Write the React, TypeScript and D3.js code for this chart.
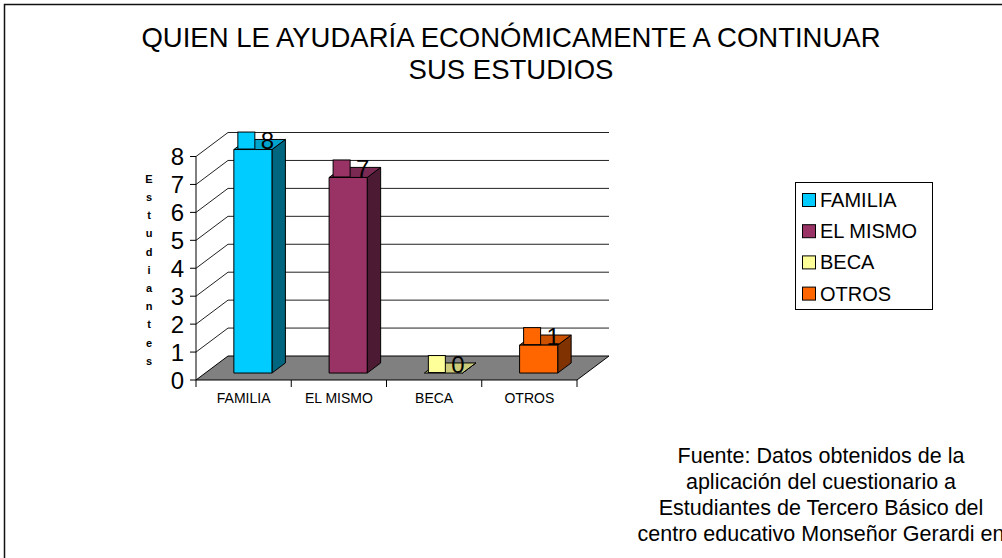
import React from "react";
import * as d3 from "d3";

const categories = ["FAMILIA", "EL MISMO", "BECA", "OTROS"];
const values = [8, 7, 0, 1];
const frontColors = ["#00CCFF", "#993366", "#FFFF99", "#FF6600"];
const topColors = ["#00A3CC", "#7A2952", "#CCCC7A", "#CC5200"];
const sideColors = ["#006680", "#4D1A33", "#80804D", "#803300"];
const yTicks = [0, 1, 2, 3, 4, 5, 6, 7, 8];
const titleLines = ["QUIEN LE AYUDARÍA ECONÓMICAMENTE A CONTINUAR", "SUS ESTUDIOS"];
const yTitle = "Estudiantes";
const footLines = [
  "Fuente: Datos obtenidos de la",
  "aplicación del cuestionario a",
  "Estudiantes de Tercero Básico del",
  "centro educativo Monseñor Gerardi en",
];

const FONT = "'Liberation Sans', Arial, Helvetica, sans-serif";

export default function App() {
  const W = 1002;
  const H = 558;
  const x = d3.scaleBand<string>().domain(categories).range([196, 577]).padding(0);
  const y = d3.scaleLinear().domain([0, 8]).range([380, 156.5]);
  const DX = 32;
  const DY = -24;
  const f0 = 0.29;
  const f1 = 0.71;
  const bw = x.bandwidth();
  const barW = bw * 0.4;
  const ddx = (f1 - f0) * DX;
  const ddy = (f1 - f0) * DY;

  const floor = [
    [196, y(0)],
    [577, y(0)],
    [577 + DX, y(0) + DY],
    [196 + DX, y(0) + DY],
  ];
  const pts = (a: number[][]) => a.map((p) => p.join(",")).join(" ");

  return (
    <svg
      width={W}
      height={H}
      style={{ position: "absolute", left: 0, top: 0, background: "#fff" }}
      fontFamily={FONT}
    >
      <rect x={0} y={0} width={W} height={H} fill="#fff" />
      <rect x={4.5} y={4.5} width={1200} height={1000} fill="none" stroke="#111" strokeWidth={1.5} />

      {/* Title */}
      {titleLines.map((t, i) => (
        <text key={t} x={511} y={47 + i * 32} textAnchor="middle" fontSize={27.5} fill="#000">
          {t}
        </text>
      ))}

      {/* Floor */}
      <polygon points={pts(floor)} fill="#808080" stroke="#000" strokeWidth={1} />

      {/* Gridlines: side wall diagonals and back wall */}
      {yTicks.map((t) => (
        <g key={"g" + t}>
          {t > 0 && (
            <line x1={196} y1={y(t)} x2={196 + DX} y2={y(t) + DY} stroke="#222" strokeWidth={1} />
          )}
          {t > 0 && (
            <line x1={196 + DX} y1={y(t) + DY} x2={577 + DX} y2={y(t) + DY} stroke="#222" strokeWidth={1} />
          )}
        </g>
      ))}

      {/* Y axis */}
      <line x1={196} y1={y(0)} x2={196} y2={y(8)} stroke="#000" strokeWidth={1} />
      {yTicks.map((t) => (
        <g key={"yt" + t}>
          <line x1={190} y1={y(t)} x2={196} y2={y(t)} stroke="#000" strokeWidth={1} />
          <text x={184} y={y(t) + 8.5} textAnchor="end" fontSize={24} fill="#000">
            {t}
          </text>
        </g>
      ))}

      {/* Y axis title stacked letters */}
      {yTitle.split("").map((ch, i) => (
        <text key={"yl" + i} x={149} y={182.7 + i * 18.2} textAnchor="middle" fontSize={11} fontWeight="bold" fill="#000">
          {ch}
        </text>
      ))}

      {/* X axis ticks and labels */}
      {[...categories.map((c) => x(c) as number), 577].map((tx, i) => (
        <line key={"xt" + i} x1={tx} y1={y(0)} x2={tx} y2={y(0) + 7} stroke="#000" strokeWidth={1} />
      ))}
      {categories.map((c) => (
        <text key={"xl" + c} x={(x(c) as number) + bw / 2} y={403} textAnchor="middle" fontSize={14} fill="#000">
          {c}
        </text>
      ))}

      {/* Bars */}
      {categories.map((c, i) => {
        const x0 = (x(c) as number) + (bw - barW) / 2 + f0 * DX;
        const x1 = x0 + barW;
        const bottom = y(0) + f0 * DY;
        const top = y(values[i]) + f0 * DY;
        return (
          <g key={"bar" + c} stroke="#000" strokeWidth={1} strokeLinejoin="round">
            <polygon
              points={pts([
                [x1, top],
                [x1 + ddx, top + ddy],
                [x1 + ddx, bottom + ddy],
                [x1, bottom],
              ])}
              fill={sideColors[i]}
            />
            <polygon
              points={pts([
                [x0, top],
                [x1, top],
                [x1 + ddx, top + ddy],
                [x0 + ddx, top + ddy],
              ])}
              fill={topColors[i]}
            />
            {values[i] > 0 && <rect x={x0} y={top} width={barW} height={bottom - top} fill={frontColors[i]} />}
          </g>
        );
      })}

      {/* Data labels */}
      {categories.map((c, i) => {
        const x0 = (x(c) as number) + (bw - barW) / 2 + f0 * DX;
        const top = y(values[i]) + f0 * DY;
        return (
          <g key={"lab" + c}>
            <rect x={x0 + 4} y={top - 17.5} width={17} height={17} fill={frontColors[i]} stroke="#000" strokeWidth={1} />
            <text x={x0 + 27} y={top - 0.5} fontSize={24} fill="#000">
              {values[i]}
            </text>
          </g>
        );
      })}

      {/* Legend */}
      <rect x={795.5} y={182.5} width={137} height={127} fill="#fff" stroke="#000" strokeWidth={1} />
      {categories.map((c, i) => (
        <g key={"leg" + c}>
          <rect x={802.5} y={193.5 + i * 31.2} width={13} height={13} fill={frontColors[i]} stroke="#000" strokeWidth={1} />
          <text x={820} y={207 + i * 31.2} fontSize={20} fill="#000">
            {c}
          </text>
        </g>
      ))}

      {/* Footnote */}
      {footLines.map((t, i) => (
        <text key={"f" + i} x={821} y={463.3 + i * 26} textAnchor="middle" fontSize={21.5} fill="#000">
          {t}
        </text>
      ))}
    </svg>
  );
}
